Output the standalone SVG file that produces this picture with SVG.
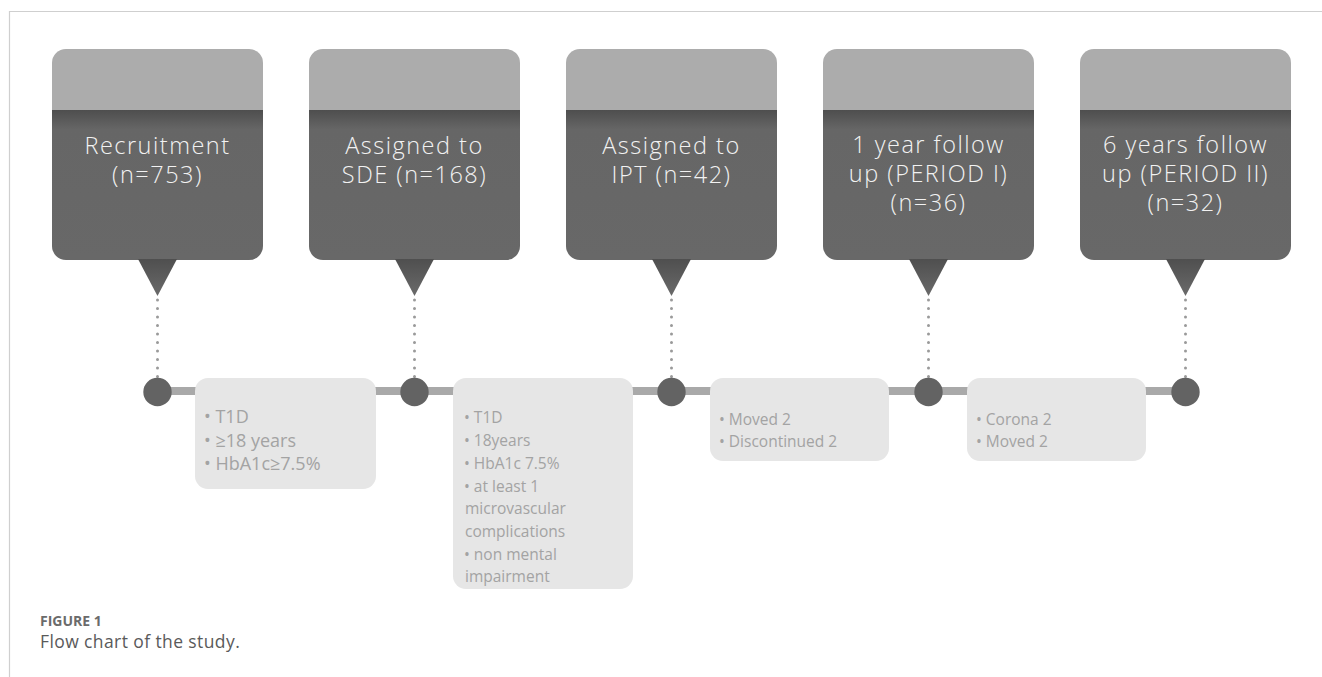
<svg xmlns="http://www.w3.org/2000/svg" width="1322" height="677" viewBox="0 0 1322 677">
<defs>
<linearGradient id="dk" x1="0" y1="0" x2="0" y2="1">
<stop offset="0" stop-color="#4e4e4e"/><stop offset="0.13" stop-color="#666"/><stop offset="1" stop-color="#686868"/>
</linearGradient>
<linearGradient id="tri" x1="0" y1="0" x2="0" y2="1">
<stop offset="0" stop-color="#4f4f4f"/><stop offset="1" stop-color="#6a6a6a"/>
</linearGradient>
</defs>
<style>
.top{fill:#acacac}
.dark{fill:url(#dk)}
.tri{fill:url(#tri)}
.t{font-family:"Open Sans","DejaVu Sans",sans-serif;font-weight:300;font-size:23.5px;fill:#f2f2f2;text-anchor:middle;letter-spacing:1.5px}
.dot{stroke:#9a9a9a;stroke-width:3;stroke-linecap:round;stroke-dasharray:0 8.5;fill:none}
.ln{stroke:#a9a9a9;stroke-width:8}
.c{fill:#636363}
.ib{fill:#e6e6e6}
.it{font-family:"Open Sans","Liberation Sans",sans-serif;font-size:15.5px;fill:#a3a3a3}
.it1{font-size:18px}
.cap1{font-family:"Open Sans","Liberation Sans",sans-serif;font-weight:700;font-size:14px;fill:#6b6b6b}
.cap2{font-family:"Open Sans","Liberation Sans",sans-serif;font-size:17.5px;fill:#5a5a5a;letter-spacing:0.4px}
</style>
<rect width="1322" height="677" fill="#fff"/>
<path d="M9.5,677 V11.5 H1322" fill="none" stroke="#cfcfcf" stroke-width="1.2"/>

<g id="connectors">
<line class="ln" x1="157.5" y1="391" x2="1185.5" y2="391"/>
<line class="dot" x1="157.5" y1="300" x2="157.5" y2="378"/>
<line class="dot" x1="414.5" y1="300" x2="414.5" y2="378"/>
<line class="dot" x1="671.5" y1="300" x2="671.5" y2="378"/>
<line class="dot" x1="928.5" y1="300" x2="928.5" y2="378"/>
<line class="dot" x1="1185.5" y1="300" x2="1185.5" y2="378"/>
<circle class="c" cx="157.5" cy="392" r="14.2"/>
<circle class="c" cx="414.5" cy="392" r="14.2"/>
<circle class="c" cx="671.5" cy="392" r="14.2"/>
<circle class="c" cx="928.5" cy="392" r="14.2"/>
<circle class="c" cx="1185.5" cy="392" r="14.2"/>
</g>

<g id="n1" transform="translate(52,49)">
<path class="top" d="M0,62 V14 A14,14 0 0 1 14,0 H197 A14,14 0 0 1 211,14 V62 Z"/>
<path class="dark" d="M0,61 H211 V197 A14,14 0 0 1 197,211 H14 A14,14 0 0 1 0,197 Z"/>
<polygon class="tri" points="86,210 125,210 105.5,247"/>
<text class="t" x="105.5" y="105">Recruitment</text>
<text class="t" x="105.5" y="134">(n=753)</text>
</g>
<g id="n2" transform="translate(309,49)">
<path class="top" d="M0,62 V14 A14,14 0 0 1 14,0 H197 A14,14 0 0 1 211,14 V62 Z"/>
<path class="dark" d="M0,61 H211 V197 A14,14 0 0 1 197,211 H14 A14,14 0 0 1 0,197 Z"/>
<polygon class="tri" points="86,210 125,210 105.5,247"/>
<text class="t" x="105.5" y="105">Assigned to</text>
<text class="t" x="105.5" y="134">SDE (n=168)</text>
</g>
<g id="n3" transform="translate(566,49)">
<path class="top" d="M0,62 V14 A14,14 0 0 1 14,0 H197 A14,14 0 0 1 211,14 V62 Z"/>
<path class="dark" d="M0,61 H211 V197 A14,14 0 0 1 197,211 H14 A14,14 0 0 1 0,197 Z"/>
<polygon class="tri" points="86,210 125,210 105.5,247"/>
<text class="t" x="105.5" y="105">Assigned to</text>
<text class="t" x="105.5" y="134">IPT (n=42)</text>
</g>
<g id="n4" transform="translate(823,49)">
<path class="top" d="M0,62 V14 A14,14 0 0 1 14,0 H197 A14,14 0 0 1 211,14 V62 Z"/>
<path class="dark" d="M0,61 H211 V197 A14,14 0 0 1 197,211 H14 A14,14 0 0 1 0,197 Z"/>
<polygon class="tri" points="86,210 125,210 105.5,247"/>
<text class="t" x="105.5" y="104">1 year follow</text>
<text class="t" x="105.5" y="133">up (PERIOD I)</text>
<text class="t" x="105.5" y="162">(n=36)</text>
</g>
<g id="n5" transform="translate(1080,49)">
<path class="top" d="M0,62 V14 A14,14 0 0 1 14,0 H197 A14,14 0 0 1 211,14 V62 Z"/>
<path class="dark" d="M0,61 H211 V197 A14,14 0 0 1 197,211 H14 A14,14 0 0 1 0,197 Z"/>
<polygon class="tri" points="86,210 125,210 105.5,247"/>
<text class="t" x="105.5" y="104">6 years follow</text>
<text class="t" x="105.5" y="133">up (PERIOD II)</text>
<text class="t" x="105.5" y="162">(n=32)</text>
</g>

<g id="i1">
<rect class="ib" x="195" y="378" width="181" height="111" rx="13"/>
<text class="it it1" x="204" y="423">• T1D</text>
<text class="it it1" x="204" y="446.5">• ≥18 years</text>
<text class="it it1" x="204" y="470">• HbA1c≥7.5%</text>
</g>
<g id="i2">
<rect class="ib" x="453" y="378" width="180" height="211" rx="13"/>
<text class="it" x="464" y="423">• T1D</text>
<text class="it" x="464" y="446">• 18years</text>
<text class="it" x="464" y="469">• HbA1c 7.5%</text>
<text class="it" x="464" y="492">• at least 1</text>
<text class="it" x="465" y="514">microvascular</text>
<text class="it" x="465" y="537">complications</text>
<text class="it" x="464" y="560">• non mental</text>
<text class="it" x="465" y="582">impairment</text>
</g>
<g id="i3">
<rect class="ib" x="710" y="378" width="179" height="83" rx="13"/>
<text class="it" x="719" y="425">• Moved 2</text>
<text class="it" x="719" y="447">• Discontinued 2</text>
</g>
<g id="i4">
<rect class="ib" x="967" y="378" width="179" height="83" rx="13"/>
<text class="it" x="976" y="425">• Corona 2</text>
<text class="it" x="976" y="447">• Moved 2</text>
</g>

<text class="cap1" x="40" y="626">FIGURE 1</text>
<text class="cap2" x="40" y="648">Flow chart of the study.</text>
</svg>
